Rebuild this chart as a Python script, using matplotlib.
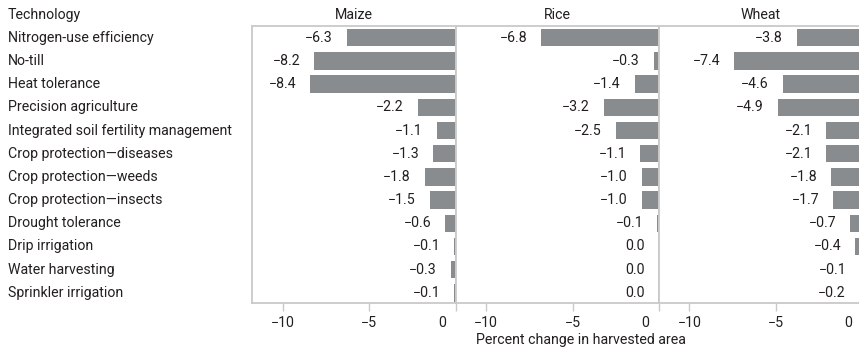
import numpy as np
import matplotlib
matplotlib.use("Agg")
import matplotlib.pyplot as plt
import matplotlib.transforms as mtransforms

plt.rcParams['font.family'] = ['Liberation Sans Narrow', 'Roboto', 'DejaVu Sans']

technologies = [
    "Nitrogen-use efficiency",
    "No-till",
    "Heat tolerance",
    "Precision agriculture",
    "Integrated soil fertility management",
    "Crop protection\u2014diseases",
    "Crop protection\u2014weeds",
    "Crop protection\u2014insects",
    "Drought tolerance",
    "Drip irrigation",
    "Water harvesting",
    "Sprinkler irrigation",
]
crops = ["Maize", "Rice", "Wheat"]
maize = [-6.3, -8.2, -8.4, -2.2, -1.1, -1.3, -1.8, -1.5, -0.6, -0.1, -0.3, -0.1]
rice = [-6.8, -0.3, -1.4, -3.2, -2.5, -1.1, -1.0, -1.0, -0.1, 0.0, 0.0, 0.0]
wheat = [-3.8, -7.4, -4.6, -4.9, -2.1, -2.1, -1.8, -1.7, -0.7, -0.4, -0.1, -0.2]
xticks = [-10, -5, 0]

W, H = 859, 351
bar_color = "#898c8f"
frame_color = "#c9c9c9"
text_color = "#231f20"
fs = 10.2

fig = plt.figure(figsize=(W / 100, H / 100), dpi=100)

# panel geometry in pixels
left0, pw = 252.5, 203.3
top, bottom = 25.7, 303.3
y = np.arange(len(technologies))

axes = []
for i, (crop, vals) in enumerate(zip(crops, [maize, rice, wheat])):
    ax = fig.add_axes([(left0 + i * pw) / W, (H - bottom) / H,
                       pw / W, (bottom - top) / H])
    ax.barh(y, vals, height=0.75, color=bar_color, zorder=2)
    ax.set_xlim(-11.75, 0)
    ax.set_ylim(11.45, -0.52)
    ax.set_yticks([])
    ax.set_xticks(xticks)
    ax.set_xticklabels(["\u2212" + str(abs(t)) if t < 0 else str(t) for t in xticks])
    ax.tick_params(axis='x', length=6, width=1, color=frame_color,
                   labelsize=fs, labelcolor=text_color, pad=3)
    for s in ax.spines.values():
        s.set_color(frame_color)
        s.set_linewidth(1.3)
    for yy, v in zip(y, vals):
        txt = f"{v:.1f}".replace("-", "\u2212")
        ax.annotate(txt, (v, yy), xytext=(-10, 0), textcoords='offset points',
                    ha='right', va='center', fontsize=fs, color=text_color)
    # zero label sits left of its tick
    for lbl in ax.get_xticklabels():
        if lbl.get_text() == "0":
            lbl.set_transform(lbl.get_transform() +
                              mtransforms.ScaledTranslation(-0.14, 0, fig.dpi_scale_trans))
    tr = mtransforms.blended_transform_factory(ax.transAxes, fig.transFigure)
    ax.text(0.5, 1 - 15 / H, crop, transform=tr, ha='center', va='center',
            fontsize=fs, color=text_color)
    axes.append(ax)

# row labels down the left side
tr = mtransforms.blended_transform_factory(fig.transFigure, axes[0].transData)
for yy, name in zip(y, technologies):
    fig.text(8 / W, yy, name, transform=tr, ha='left', va='center',
             fontsize=fs, color=text_color)
fig.text(8 / W, 1 - 15 / H, "Technology", ha='left', va='center',
         fontsize=fs, color=text_color)

fig.text(581 / W, 1 - 340 / H, "Percent change in harvested area",
         ha='center', va='center', fontsize=fs, color=text_color)

fig.savefig("out.png", dpi=100)
